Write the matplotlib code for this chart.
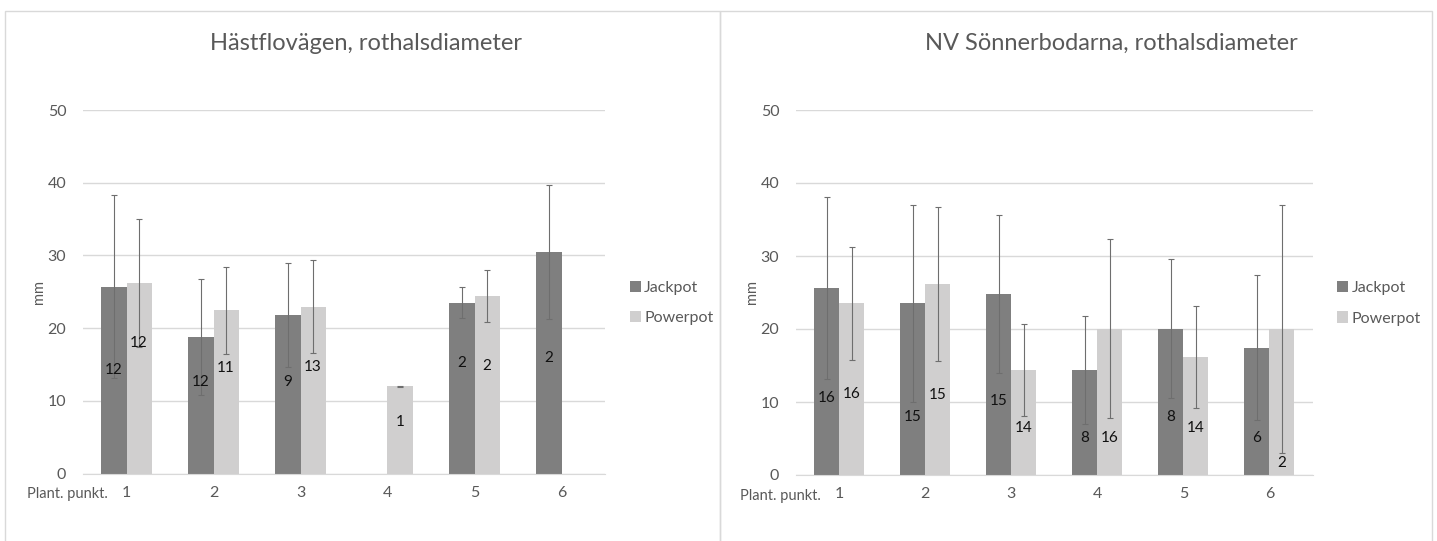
import numpy as np
import matplotlib.pyplot as plt
from matplotlib.patches import Rectangle

plt.rcParams['font.family'] = ['Lato', 'DejaVu Sans']

categories = ['1', '2', '3', '4', '5', '6']
series = ['Jackpot', 'Powerpot']

# Hästflovägen
hast_jackpot = [25.7, 18.8, 21.8, np.nan, 23.5, 30.5]
hast_powerpot = [26.2, 22.45, 22.95, 12.0, 24.4, np.nan]
hast_jackpot_err = [12.6, 7.95, 7.2, np.nan, 2.15, 9.2]
hast_powerpot_err = [8.8, 6.0, 6.4, 0.05, 3.55, np.nan]
hast_jackpot_n = ['12', '12', '9', '', '2', '2']
hast_powerpot_n = ['12', '11', '13', '1', '2', '']

# NV Sönnerbodarna
nv_jackpot = [25.6, 23.5, 24.8, 14.4, 20.05, 17.45]
nv_powerpot = [23.5, 26.1, 14.4, 20.05, 16.2, 19.95]
nv_jackpot_err = [12.45, 13.45, 10.8, 7.35, 9.55, 9.9]
nv_powerpot_err = [7.7, 10.55, 6.3, 12.25, 7.0, 17.0]
nv_jackpot_n = ['16', '15', '15', '8', '8', '6']
nv_powerpot_n = ['16', '15', '14', '16', '14', '2']

# where Excel put the count labels (in mm)
hast_jackpot_lab_y = [14.3, 12.6, 12.6, 0, 15.2, 15.9]
hast_powerpot_lab_y = [18.0, 14.5, 14.7, 7.15, 14.8, 0]
nv_jackpot_lab_y = [10.5, 8.0, 10.1, 5.0, 8.0, 5.0]
nv_powerpot_lab_y = [11.05, 10.95, 6.5, 5.0, 6.4, 1.6]

DARK = '#7f7f7f'
LIGHT = '#d0cfcf'
TXT = '#595959'


def draw_panel(ax, title, jack, powr, jerr, perr, jn, pn, jy, py, title_x):
    x = np.arange(len(categories)) + 1
    w = 0.29
    ekw = dict(ecolor='#6e6e6e', elinewidth=0.8, capsize=2.5, capthick=0.8)
    ax.bar(x - w / 2, jack, w, yerr=jerr, color=DARK, label=series[0],
           error_kw=ekw, zorder=2)
    ax.bar(x + w / 2, powr, w, yerr=perr, color=LIGHT, label=series[1],
           error_kw=ekw, zorder=2)
    for i in range(len(x)):
        if jn[i]:
            ax.text(x[i] - w / 2, jy[i], jn[i], ha='center', va='center',
                    fontsize=11, color='#111111', zorder=3)
        if pn[i]:
            ax.text(x[i] + w / 2, py[i], pn[i], ha='center', va='center',
                    fontsize=11, color='#111111', zorder=3)

    ax.set_xlim(0.5, 6.5)
    ax.set_ylim(0, 50)
    ax.set_yticks([0, 10, 20, 30, 40, 50])
    ax.set_xticks(x)
    ax.set_xticklabels(categories)
    ax.yaxis.grid(True, color='#d9d9d9', lw=1.0, zorder=0)
    ax.set_axisbelow(True)
    for s in ['top', 'right', 'left']:
        ax.spines[s].set_visible(False)
    ax.spines['bottom'].set_color('#d9d9d9')
    ax.tick_params(length=0, labelsize=11.5, colors=TXT)
    ax.tick_params(axis='y', pad=12)
    ax.tick_params(axis='x', pad=9)
    ax.set_ylabel('mm', color=TXT, fontsize=10.5, labelpad=1)
    ax.text(0.048, -0.057, 'Plant. punkt.', transform=ax.transAxes,
            ha='right', va='center', fontsize=10.5, color=TXT)
    ax.figure.text(title_x, 0.92, title, ha='center', va='center',
                   fontsize=17, color=TXT)
    ax.legend(loc='center left', bbox_to_anchor=(1.02, 0.47), frameon=False,
              fontsize=11.5, handlelength=0.7, handleheight=0.7,
              handletextpad=0.2, labelspacing=1.0, labelcolor=TXT)


fig = plt.figure(figsize=(14.37, 5.41), dpi=100)

# panel frames
fig.patches.append(Rectangle((5 / 1437, -0.1), 715 / 1437, 1.1 - 11 / 541,
                             transform=fig.transFigure, fill=False,
                             edgecolor='#d9d9d9', lw=1.0))
fig.patches.append(Rectangle((720 / 1437, -0.1), 712 / 1437, 1.1 - 11 / 541,
                             transform=fig.transFigure, fill=False,
                             edgecolor='#d9d9d9', lw=1.0))

ax1 = fig.add_axes([83 / 1437, 67.3 / 541, 522 / 1437, 363.7 / 541])
draw_panel(ax1, 'Hästflovägen, rothalsdiameter', hast_jackpot, hast_powerpot,
           hast_jackpot_err, hast_powerpot_err, hast_jackpot_n, hast_powerpot_n,
           hast_jackpot_lab_y, hast_powerpot_lab_y, 366 / 1437)

ax2 = fig.add_axes([796 / 1437, 66 / 541, 516.5 / 1437, 365 / 541])
draw_panel(ax2, 'NV Sönnerbodarna, rothalsdiameter', nv_jackpot, nv_powerpot,
           nv_jackpot_err, nv_powerpot_err, nv_jackpot_n, nv_powerpot_n,
           nv_jackpot_lab_y, nv_powerpot_lab_y, 1111 / 1437)

fig.savefig('out.png', dpi=100)
